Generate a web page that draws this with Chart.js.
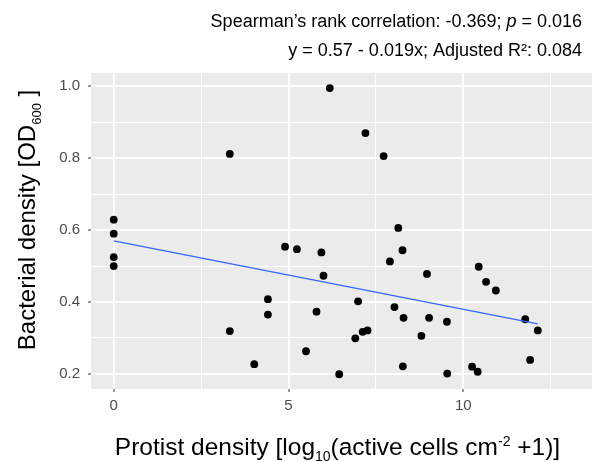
<!DOCTYPE html>
<html>
<head>
<meta charset="utf-8">
<script src="https://cdn.jsdelivr.net/npm/chart.js@4"></script>
<style>
  html, body { margin:0; padding:0; background:#fff; }
  #wrap { width:596px; height:462px; }
</style>
</head>
<body>
<div id="wrap"><canvas id="c" width="596" height="462"></canvas></div>
<script>
// ---- Datos
const protist = [0, 0, 0, 0, 3.32, 3.32, 4.02, 4.41, 4.41, 4.90, 5.24, 5.50, 5.80, 5.94, 6.00, 6.18,
  6.45, 6.91, 6.99, 7.12, 7.20, 7.26, 7.72, 7.90, 8.03, 8.14, 8.26, 8.27, 8.29, 8.80, 8.96, 9.02,
  9.53, 9.54, 10.25, 10.41, 10.44, 10.65, 10.93, 11.77, 11.91, 12.13];
const bacteria = [0.629, 0.590, 0.525, 0.500, 0.812, 0.319, 0.227, 0.408, 0.365, 0.554, 0.547, 0.263, 0.373, 0.538, 0.473, 0.995,
  0.199, 0.299, 0.402, 0.317, 0.870, 0.321, 0.806, 0.513, 0.386, 0.606, 0.544, 0.221, 0.356, 0.306, 0.478, 0.356,
  0.345, 0.201, 0.220, 0.206, 0.498, 0.456, 0.432, 0.352, 0.239, 0.321];
const fitX = [0, 12.13];
const fitY = [0.57, 0.339];

const xTicks = [0, 5, 10];
const xMinor = [2.5, 7.5, 12.5];
const yTicks = [0.2, 0.4, 0.6, 0.8, 1.0];
const yMinor = [0.3, 0.5, 0.7, 0.9];

const statLines = [
  [{ t: 'Spearman\u2019s rank correlation: -0.369; ' }, { t: 'p', italic: true }, { t: ' = 0.016' }],
  [{ t: 'y = 0.57 - 0.019x; Adjusted R\u00b2: 0.084' }]
];

// ---- Utilidades
const FONT = '"Liberation Sans", Arial, sans-serif';
const isMajor = (list, v) => list.some(m => Math.abs(m - v) < 1e-6);
const fmt1 = v => v.toFixed(1);

// dibuja texto con partes de distinto tamaño (sub/superíndices)
function richWidth(ctx, parts, base){
  return parts.reduce((w, p) => {
    ctx.font = (p.italic ? 'italic ' : '') + (p.size || base) + 'px ' + FONT;
    return w + ctx.measureText(p.t).width;
  }, 0);
}
function drawRich(ctx, parts, x, y, base, align){
  const w = richWidth(ctx, parts, base);
  let cx = align === 'right' ? x - w : align === 'center' ? x - w / 2 : x;
  ctx.textAlign = 'left';
  ctx.textBaseline = 'alphabetic';
  parts.forEach(p => {
    ctx.font = (p.italic ? 'italic ' : '') + (p.size || base) + 'px ' + FONT;
    ctx.fillText(p.t, cx, y + (p.dy || 0));
    cx += ctx.measureText(p.t).width;
  });
}

const ggPlugin = {
  id: 'gg',
  beforeDraw(chart){
    const { ctx, chartArea: a } = chart;
    ctx.save();
    ctx.fillStyle = '#EBEBEB';
    ctx.fillRect(a.left, a.top, a.right - a.left, a.bottom - a.top);
    ctx.restore();
  },
  afterDraw(chart){
    const { ctx, chartArea: a } = chart;
    ctx.save();
    ctx.fillStyle = '#000';
    // estadísticas arriba a la derecha
    drawRich(ctx, statLines[0], 582, 27, 18, 'right');
    drawRich(ctx, statLines[1], 582, 56, 18, 'right');

    // título eje x
    const xTitle = [
      { t: 'Protist density [log' },
      { t: '10', size: 14, dy: 6 },
      { t: '(active cells cm' },
      { t: '-2', size: 14, dy: -9 },
      { t: ' +1)]' }
    ];
    drawRich(ctx, xTitle, (a.left + a.right) / 2 - 4, 455, 24.5, 'center');

    // título eje y
    const yTitle = [
      { t: 'Bacterial density [OD' },
      { t: '600', size: 13, dy: 6 },
      { t: ' ]' }
    ];
    ctx.translate(35, 220);
    ctx.rotate(-Math.PI / 2);
    drawRich(ctx, yTitle, 0, 0, 24, 'center');
    ctx.restore();
  }
};

const gridOpts = (major) => ({
  color: '#FFFFFF',
  lineWidth: c => isMajor(major, c.tick.value) ? 2 : 1,
  tickColor: c => isMajor(major, c.tick.value) ? '#333333' : 'rgba(0,0,0,0)',
  tickLength: 3,
  tickWidth: 1
});

new Chart(document.getElementById('c'), {
  type: 'scatter',
  data: {
    datasets: [
      {
        label: 'fit',
        type: 'line',
        data: fitX.map((x, i) => ({ x, y: fitY[i] })),
        borderColor: '#3366FF',
        borderWidth: 1.4,
        pointRadius: 0,
        fill: false,
        order: 0
      },
      {
        label: 'samples',
        data: protist.map((x, i) => ({ x, y: bacteria[i] })),
        backgroundColor: '#000',
        borderColor: '#000',
        pointRadius: 3.9,
        borderWidth: 0,
        order: 1
      }
    ]
  },
  options: {
    responsive: false,
    animation: false,
    layout: { padding: { top: 73, right: 2, left: 0, bottom: 0 } },
    plugins: { legend: { display: false }, tooltip: { enabled: false } },
    scales: {
      x: {
        type: 'linear',
        min: -0.65, max: 13.68,
        afterBuildTicks: s => { s.ticks = [...xTicks, ...xMinor].map(v => ({ value: v })); },
        afterFit: s => { s.height = 73; },
        ticks: {
          autoSkip: false, maxRotation: 0, padding: 5,
          color: '#4D4D4D',
          font: { family: FONT, size: 15 },
          callback: v => isMajor(xTicks, v) ? String(v) : ''
        },
        grid: gridOpts(xTicks),
        border: { display: false }
      },
      y: {
        type: 'linear',
        min: 0.158, max: 1.037,
        afterBuildTicks: s => { s.ticks = [...yTicks, ...yMinor].map(v => ({ value: v })); },
        afterFit: s => { s.width = 91; },
        ticks: {
          autoSkip: false, padding: 8,
          color: '#4D4D4D',
          font: { family: FONT, size: 15 },
          callback: v => isMajor(yTicks, v) ? fmt1(v) : ''
        },
        grid: gridOpts(yTicks),
        border: { display: false }
      }
    }
  },
  plugins: [ggPlugin]
});
</script>
</body>
</html>
